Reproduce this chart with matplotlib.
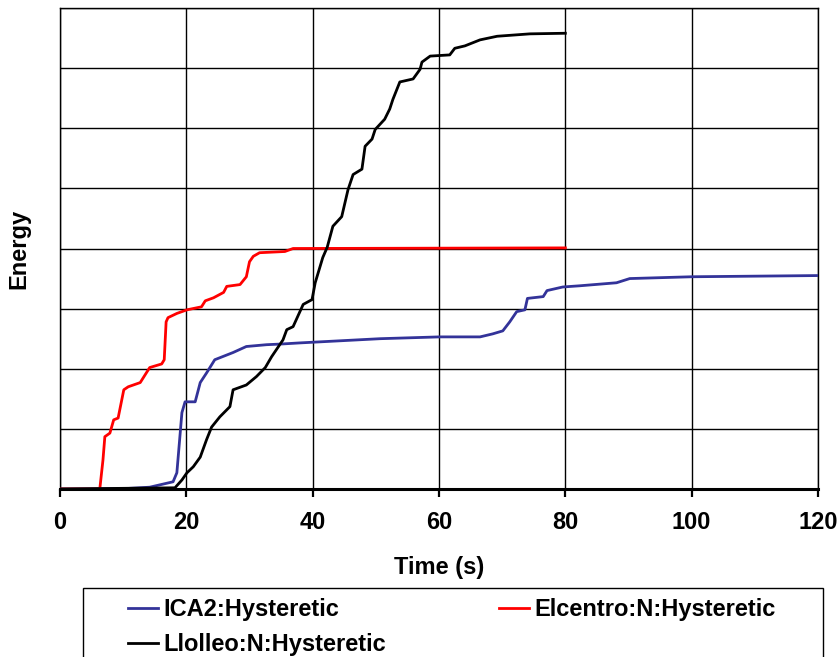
import matplotlib
matplotlib.use("Agg")
import matplotlib.pyplot as plt
from matplotlib.lines import Line2D
from matplotlib.patches import Rectangle

plt.rcParams['font.family'] = ['Liberation Sans', 'DejaVu Sans']
plt.rcParams['font.weight'] = 'bold'

# ICA2:Hysteretic
ica2_t = [0, 10, 14.2, 17.9, 18.5, 19.3, 19.8, 21.4, 22.2, 23.2, 24.5, 27.4, 29.5, 32.7, 34.8, 38,
          50.7, 60.1, 66.5, 68.5, 70.1, 71.2, 72.3, 73.6, 74, 76.5, 77.1, 79.6, 82.3, 88.1, 90.2, 100, 120]
ica2_e = [0, 0.005, 0.03, 0.12, 0.27, 1.27, 1.45, 1.45, 1.77, 1.93, 2.15, 2.27, 2.37, 2.4, 2.41, 2.43,
          2.5, 2.53, 2.53, 2.58, 2.63, 2.78, 2.95, 2.98, 3.17, 3.2, 3.3, 3.36, 3.38, 3.43, 3.5, 3.53, 3.55]

# Elcentro:N:Hysteretic
elc_t = [0, 6.3, 6.8, 7.1, 7.9, 8.5, 9.2, 10.1, 10.8, 12.7, 14.2, 16.1, 16.5, 16.8, 17.1, 18.5, 20.1,
         22.4, 23, 24.3, 25.9, 26.4, 28.5, 29.5, 30, 30.6, 31.6, 35.6, 36.9, 80]
elc_e = [0, 0, 0.48, 0.87, 0.93, 1.15, 1.18, 1.65, 1.7, 1.77, 2.02, 2.08, 2.15, 2.78, 2.85, 2.92, 2.98,
         3.03, 3.13, 3.18, 3.27, 3.37, 3.4, 3.53, 3.78, 3.87, 3.93, 3.95, 4.0, 4.01]

# Llolleo:N:Hysteretic
llo_t = [0, 18.2, 19.3, 20.1, 21.1, 22.2, 23.2, 24, 25.3, 26.9, 27.4, 29.5, 31.1, 32.5, 33.5, 35.3,
         35.9, 36.9, 38.5, 39.9, 40.4, 41.6, 42.3, 43.2, 44.6, 45.6, 46.4, 47.8, 48.3, 49.4, 49.9, 51.4,
         52.2, 52.7, 53.8, 55.9, 57, 57.3, 58.6, 61.7, 62.5, 64.1, 66.5, 69.2, 74.4, 80]
llo_e = [0, 0.02, 0.15, 0.27, 0.37, 0.53, 0.82, 1.03, 1.2, 1.37, 1.65, 1.73, 1.87, 2.02, 2.2, 2.48,
         2.65, 2.7, 3.07, 3.15, 3.43, 3.85, 4.02, 4.37, 4.53, 4.98, 5.23, 5.32, 5.7, 5.82, 5.98, 6.15,
         6.32, 6.48, 6.77, 6.82, 6.98, 7.1, 7.2, 7.22, 7.33, 7.37, 7.47, 7.53, 7.57, 7.58]

x_ticks = [0, 20, 40, 60, 80, 100, 120]
names = ['ICA2:Hysteretic', 'Elcentro:N:Hysteretic', 'Llolleo:N:Hysteretic']
colors = ['#333399', '#FF0000', '#000000']

FS = 17
W, H = 839, 657
fig = plt.figure(figsize=(W/100, H/100), dpi=100)
ax = fig.add_axes([60/W, 1-489/H, (818-60)/W, (489-8)/H])

ax.plot(ica2_t, ica2_e, color=colors[0], lw=2.0, zorder=3)
ax.plot(elc_t, elc_e, color=colors[1], lw=2.0, zorder=3)
ax.plot(llo_t, llo_e, color=colors[2], lw=2.0, zorder=4)

ax.set_xlim(0, 120)
ax.set_ylim(0, 8)
ax.set_xticks(x_ticks)
ax.set_xticklabels([str(v) for v in x_ticks], fontsize=FS, fontweight='bold')
ax.set_yticks(range(0, 9))
ax.set_yticklabels([])
ax.tick_params(axis='y', length=0)
ax.tick_params(axis='x', direction='out', length=5.5, width=1.6, pad=10)
ax.grid(True, color='black', lw=1.0)
for s in ['left', 'right', 'top']:
    ax.spines[s].set_linewidth(1.0)
ax.spines['bottom'].set_linewidth(2.2)
ax.set_axisbelow(True)

ax.set_xlabel('Time (s)', fontsize=FS, fontweight='bold', labelpad=16)
ax.set_ylabel('Energy', fontsize=FS, fontweight='bold', labelpad=18)

# legend box
fig.patches.append(Rectangle((83/W, 1-(H+5)/H), (823-83)/W, (H+5-588)/H,
                             transform=fig.transFigure, facecolor='white',
                             edgecolor='black', lw=1.0, zorder=0))

h = [Line2D([], [], color=c, lw=2.0) for c in colors]
common = dict(loc='upper left', frameon=False, handlelength=1.27, handletextpad=0.22,
              borderpad=0, borderaxespad=0, labelspacing=0.5,
              prop={'weight': 'bold', 'size': FS})
fig.legend([h[0], h[2]], [names[0], names[2]], bbox_to_anchor=(128/W, 1-598/H), **common)
fig.legend([h[1]], [names[1]], bbox_to_anchor=(499/W, 1-598/H), **common)

fig.savefig('out.png', dpi=100)
